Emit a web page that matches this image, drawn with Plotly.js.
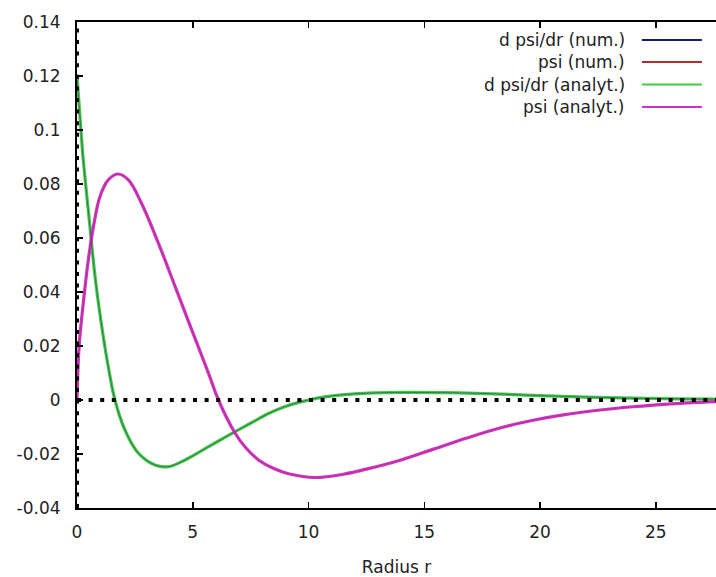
<!DOCTYPE html>
<html>
<head>
<meta charset="utf-8">
<script src="https://cdn.plot.ly/plotly-3.0.1.min.js"></script>
<style>html,body{margin:0;padding:0;background:#fff;}#chart{width:716px;height:577px;}</style>
</head>
<body>
<div id="chart"></div>
<script>
// psi(r)
var rPsi = [0, 0.09, 0.27, 0.49, 0.71, 0.99, 1.35, 1.76, 2.22, 2.79, 3.52, 4.24, 4.96, 5.68, 6.11, 6.83, 7.3, 7.84, 8.5, 9.13, 10.3, 11.5, 12.5, 14.0, 15.4, 16.8, 18.3, 19.7, 21.0, 22.6, 24.0, 25.5, 27.6];
var psiVals = [0, 0.0198, 0.0358, 0.0519, 0.0642, 0.0753, 0.0815, 0.0837, 0.0815, 0.0728, 0.058, 0.042, 0.0259, 0.0099, 0.0, -0.0123, -0.0178, -0.0222, -0.0254, -0.0273, -0.0287, -0.0275, -0.0256, -0.0222, -0.0182, -0.0142, -0.0103, -0.0075, -0.0055, -0.0037, -0.0025, -0.0015, -0.0006];
// d psi/dr
var rDpsi = [0, 0.17, 0.27, 0.56, 0.78, 1.07, 1.35, 1.64, 2.07, 2.65, 3.37, 3.95, 4.67, 5.68, 6.83, 7.5, 8.27, 9.0, 9.71, 10.57, 12.0, 14.0, 16.0, 18.0, 20.0, 22.0, 24.0, 26.0, 27.6];
var dpsiVals = [0.12, 0.10, 0.0889, 0.0642, 0.0457, 0.0272, 0.0123, 0.0, -0.0111, -0.0197, -0.0241, -0.0247, -0.0222, -0.0173, -0.0117, -0.0086, -0.0050, -0.0024, -0.0006, 0.001, 0.0023, 0.0028, 0.0027, 0.0023, 0.0016, 0.0011, 0.0007, 0.0004, 0.0003];

var seriesNames = ["d psi/dr (num.)", "psi (num.)", "d psi/dr (analyt.)", "psi (analyt.)"];
var seriesColors = ["#1c1c78", "#b03030", "#44c844", "#cc33cc"];

var xTicks = [0, 5, 10, 15, 20, 25];
var yTicks = [-0.04, -0.02, 0, 0.02, 0.04, 0.06, 0.08, 0.1, 0.12, 0.14];
var yTickText = ["-0.04", "-0.02", "0", "0.02", "0.04", "0.06", "0.08", "0.1", "0.12", "0.14"];

var xRange = [0, 27.6];
var yRange = [-0.04, 0.14];

var font = {family: "DejaVu Sans", size: 17, color: "#222"};

var traces = [
  {x: rDpsi, y: dpsiVals, mode: "lines", name: seriesNames[2], line: {color: seriesColors[2], width: 3.2, shape: "spline", smoothing: 1}},
  {x: rPsi, y: psiVals, mode: "lines", name: seriesNames[3], line: {color: seriesColors[3], width: 3.2, shape: "spline", smoothing: 1}},
  {x: rDpsi, y: dpsiVals, mode: "lines", name: seriesNames[0], line: {color: seriesColors[0], width: 1, shape: "spline", smoothing: 1}, opacity: 0.45},
  {x: rPsi, y: psiVals, mode: "lines", name: seriesNames[1], line: {color: seriesColors[1], width: 1, shape: "spline", smoothing: 1}, opacity: 0.45}
];

var legendX0 = 0.8607, sampleX0 = 0.884, sampleX1 = 0.978;
var legendRowsPx = [40, 62, 84.5, 107];
var plotTop = 22, plotH = 486;
var annotations = [], shapes = [];
for (var i = 0; i < seriesNames.length; i++) {
  var yp = 1 - (legendRowsPx[i] - plotTop) / plotH;
  annotations.push({xref: "paper", yref: "paper", x: legendX0, y: yp, xanchor: "right", yanchor: "middle", text: seriesNames[i], showarrow: false, font: font});
  shapes.push({type: "line", xref: "paper", yref: "paper", x0: sampleX0, x1: sampleX1, y0: yp, y1: yp, line: {color: seriesColors[i], width: 2}});
}
// dotted zero axes
shapes.push({type: "line", xref: "x", yref: "y", x0: xRange[0], x1: xRange[1], y0: 0, y1: 0, line: {color: "#000", width: 4, dash: "4px,7.6px"}});
shapes.push({type: "line", xref: "x", yref: "y", x0: 0, x1: 0, y0: yRange[0], y1: yRange[1], line: {color: "#000", width: 4, dash: "4px,7.6px"}});

var layout = {
  width: 716, height: 577,
  margin: {l: 77, r: 0, t: 22, b: 69},
  paper_bgcolor: "#fff", plot_bgcolor: "#fff",
  showlegend: false,
  font: font,
  xaxis: {
    range: xRange, tickvals: xTicks, ticks: "inside", ticklen: 6, tickwidth: 1.5, tickcolor: "#000",
    showline: true, linecolor: "#000", linewidth: 2, mirror: "ticks", showgrid: false, zeroline: false,
    ticklabelstandoff: 8,
    title: {text: "Radius r", font: font, standoff: 20}
  },
  yaxis: {
    range: yRange, tickvals: yTicks, ticktext: yTickText, ticks: "inside", ticklen: 6, tickwidth: 1.5, tickcolor: "#000",
    showline: true, linecolor: "#000", linewidth: 2, mirror: false, showgrid: false, zeroline: false,
    ticklabelstandoff: 11
  },
  annotations: annotations,
  shapes: shapes
};

Plotly.newPlot("chart", traces, layout, {staticPlot: true, displayModeBar: false});
</script>
</body>
</html>
